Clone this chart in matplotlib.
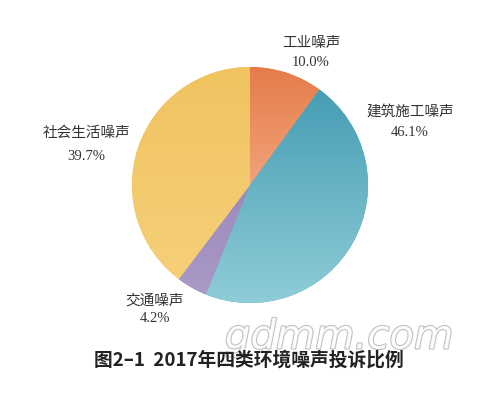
import numpy as np
import matplotlib.pyplot as plt
import matplotlib.patheffects as pe
from matplotlib.colors import LinearSegmentedColormap

# data
labels = ['工业噪声', '建筑施工噪声', '交通噪声', '社会生活噪声']
shares = [10.0, 46.1, 4.2, 39.7]
# (top colour, bottom colour) for the shaded slices
colors_top = ['#e67c4a', '#3e98b0', '#8c78ae', '#f0c360']
colors_bottom = ['#fbcaa9', '#8fcdd8', '#ab9bc8', '#f6d07a']
title = '图2–1  2017年四类环境噪声投诉比例'

W, H = 497, 403
fig = plt.figure(figsize=(W / 100, H / 100), dpi=100)
ax = fig.add_axes([0, 0, 1, 1])
ax.set_aspect('equal')

cx, cy, r = 250, H - 185, 118
wedges, _ = ax.pie(shares, startangle=90, counterclock=False, radius=r,
                   center=(cx, cy), colors=colors_top, frame=True,
                   wedgeprops=dict(linewidth=0))
ax.set_xlim(0, W)
ax.set_ylim(0, H)
ax.axis('off')

# vertical gradient inside each wedge
grad = np.linspace(0, 1, 256).reshape(-1, 1)
for w, c0, c1 in zip(wedges, colors_top, colors_bottom):
    cmap = LinearSegmentedColormap.from_list('g', [c1, c0])
    im = ax.imshow(grad, cmap=cmap, origin='lower', aspect='auto',
                   extent=(cx - r, cx + r, cy - r, cy + r), zorder=2)
    im.set_clip_path(w)

fam = ['Liberation Serif', 'Noto Sans CJK SC']
pos = {
    '工业噪声': (311, 43, 62),
    '建筑施工噪声': (410, 112, 133),
    '交通噪声': (155, 301, 319),
    '社会生活噪声': (86, 133, 157),
}
for lab, v in zip(labels, shares):
    x, y1, y2 = pos[lab]
    ax.text(x, H - y1, lab, ha='center', va='center', fontsize=10.5,
            family=fam, color='#333333')
    ax.text(x, H - y2, f'{v:.1f}%', ha='center', va='center', fontsize=10.5,
            family=fam, color='#333333')

# watermark
ax.text(339, H - 337, 'gdmm.com', ha='center', va='center', fontsize=29,
        family='DejaVu Sans', fontweight='light', style='italic', color='white',
        alpha=0.9, zorder=5,
        path_effects=[pe.withStroke(linewidth=1.5, foreground='#b8b8b8')])

ax.text(249, H - 360, title, ha='center', va='center', fontsize=13.5,
        fontweight='bold', family=['Noto Sans CJK SC', 'DejaVu Sans'],
        color='#222222', zorder=6)

fig.savefig('out.png', dpi=100)
